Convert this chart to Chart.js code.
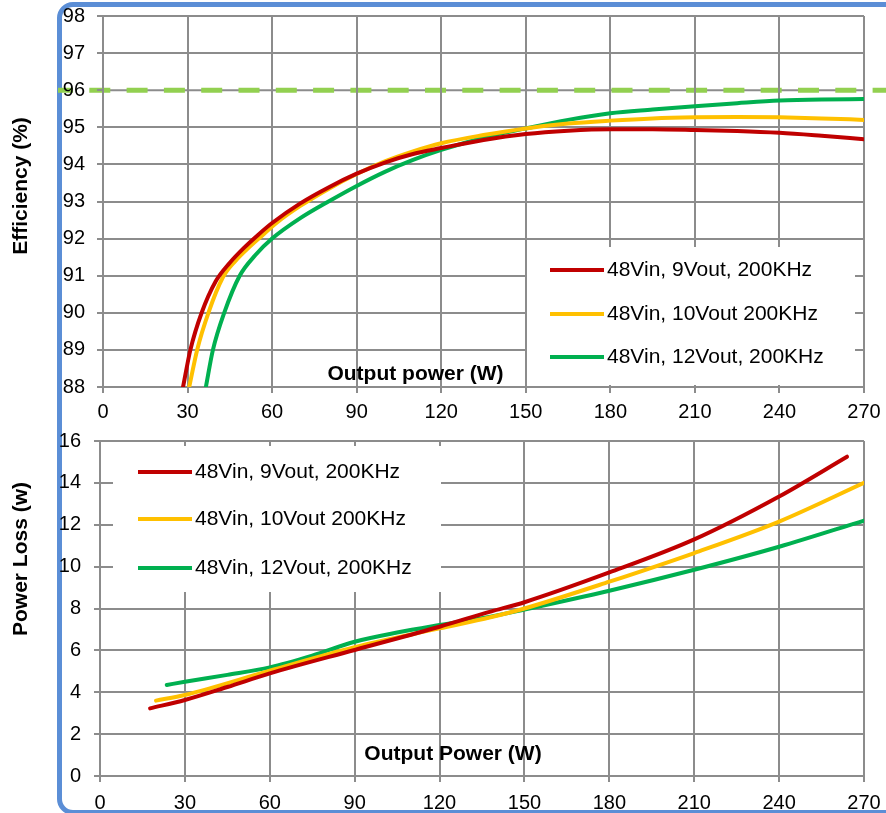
<!DOCTYPE html>
<html>
<head>
<meta charset="utf-8">
<script src="https://cdn.jsdelivr.net/npm/chart.js@4.4.1/dist/chart.umd.min.js"></script>
<style>
  html, body { margin: 0; padding: 0; background: #fff; }
  body { width: 886px; height: 813px; position: relative; overflow: hidden; }
  #frame { position: absolute; left: 57px; top: 2px; width: 900px; height: 813px; box-sizing: border-box;
           border: 5px solid #5B8ED6; border-radius: 16px; }
  canvas { position: absolute; left: 0; }
  #effChart { top: 0; }
  #lossChart { top: 426px; }
</style>
</head>
<body>
<div id="frame"></div>
<canvas id="effChart" width="886" height="426"></canvas>
<canvas id="lossChart" width="886" height="387"></canvas>
<script>
// Efficiency (%) vs output power (W)
const eff9W  = [28.4, 31, 35, 40, 45, 50, 55, 60, 70, 80, 90, 100, 110, 120, 135, 150, 165, 180, 195, 210, 225, 240, 255, 270];
const eff9   = [88.0, 89.0, 90.0, 90.85, 91.35, 91.75, 92.1, 92.42, 92.95, 93.38, 93.75, 94.05, 94.28, 94.44, 94.66, 94.82, 94.91, 94.95, 94.95, 94.93, 94.9, 94.85, 94.77, 94.68];
const eff10W = [30.6, 33.4, 37.4, 42.5, 47, 52, 57, 62, 70, 80, 90, 100, 110, 120, 135, 150, 165, 180, 195, 210, 225, 240, 255, 270];
const eff10  = [88.0, 89.0, 90.0, 90.95, 91.4, 91.78, 92.12, 92.45, 92.88, 93.34, 93.74, 94.08, 94.35, 94.57, 94.79, 94.97, 95.1, 95.18, 95.24, 95.27, 95.28, 95.27, 95.24, 95.2];
const eff12W = [36.5, 39, 43, 48.5, 54, 60, 70, 80, 90, 100, 110, 120, 135, 150, 165, 180, 195, 210, 225, 240, 255, 270];
const eff12  = [88.0, 89.0, 90.0, 91.0, 91.55, 92.0, 92.55, 93.0, 93.42, 93.8, 94.12, 94.39, 94.72, 94.97, 95.2, 95.38, 95.48, 95.57, 95.65, 95.72, 95.75, 95.76];
const effTarget = 96;

// Power loss (W) vs output power (W)
const loss9W  = [17.7, 30, 45, 60, 90, 120, 138, 150, 180, 210, 240, 264];
const loss9   = [3.23, 3.63, 4.25, 4.9, 6.02, 7.13, 7.85, 8.3, 9.72, 11.3, 13.35, 15.25];
const loss10W = [19.8, 30, 60, 90, 120, 138, 150, 180, 210, 240, 270];
const loss10  = [3.6, 3.87, 5.03, 6.15, 7.05, 7.58, 8.0, 9.28, 10.65, 12.15, 14.0];
const loss12W = [23.6, 30, 45, 60, 75, 90, 105, 120, 138, 150, 180, 210, 240, 270];
const loss12  = [4.35, 4.5, 4.83, 5.19, 5.75, 6.41, 6.85, 7.21, 7.61, 7.95, 8.85, 9.85, 10.95, 12.2];

const seriesLabels = ['48Vin, 9Vout, 200KHz', '48Vin, 10Vout 200KHz', '48Vin, 12Vout, 200KHz'];
const seriesColors = ['#C00000', '#FFC000', '#00B050'];

const GRID = '#8c8c8c';
const FONT = "'Liberation Sans', Arial, sans-serif";

function pts(xs, ys) {
	return xs.map( ( x, i ) => ( { x: x, y: ys[i] } ) );
}

function makeSet( i, xs, ys ) {
	return {
		label: seriesLabels[i],
		data: pts( xs, ys ),
		borderColor: seriesColors[i],
		backgroundColor: seriesColors[i],
		borderWidth: 4,
		borderCapStyle: 'round',
		pointRadius: 0,
		cubicInterpolationMode: 'monotone',
		fill: false
	};
}

// legend in a white box + axis titles inside the plot
const boxLegend = {
	id: 'boxLegend',
	beforeDatasetsDraw( chart, args, opts ) {
		const ctx = chart.ctx;
		ctx.save();
		ctx.fillStyle = '#fff';
		ctx.fillRect( opts.left, opts.top, opts.right - opts.left, opts.bottom - opts.top );
		ctx.font = '21px ' + FONT;
		ctx.textBaseline = 'middle';
		ctx.textAlign = 'left';
		chart.data.datasets.forEach( ( ds, i ) => {
			const y = opts.rows[i];
			ctx.strokeStyle = ds.borderColor;
			ctx.lineWidth = 4;
			ctx.beginPath();
			ctx.moveTo( opts.lineX, y );
			ctx.lineTo( opts.lineX + 54, y );
			ctx.stroke();
			ctx.fillStyle = '#000';
			ctx.fillText( ds.label, opts.lineX + 57, y );
		} );

		ctx.font = 'bold 21px ' + FONT;
		ctx.textAlign = 'center';
		ctx.fillStyle = '#000';
		ctx.fillText( opts.xTitle, opts.xTitleX, opts.xTitleY );
		ctx.translate( opts.yTitleX, opts.yTitleY );
		ctx.rotate( -Math.PI / 2 );
		ctx.fillText( opts.yTitle, 0, 0 );
		ctx.restore();
	}
};

// green dashed 96% line, under grid and labels
const targetLine = {
	id: 'targetLine',
	beforeDatasetsDraw( chart ) {
		if ( !chart.options.plugins.targetLine ) return;
		const y = chart.scales.y.getPixelForValue( effTarget );
		const ctx = chart.ctx;
		ctx.save();
		ctx.globalCompositeOperation = 'destination-over';
		ctx.strokeStyle = '#92D050';
		ctx.lineWidth = 5;
		ctx.setLineDash( [21, 16.3] );
		ctx.lineDashOffset = 6;
		ctx.beginPath();
		ctx.moveTo( 58, y );
		ctx.lineTo( chart.width, y );
		ctx.stroke();
		ctx.setLineDash( [] );
		ctx.strokeStyle = GRID;
		ctx.lineWidth = 2;
		ctx.beginPath();
		ctx.moveTo( chart.chartArea.left, y );
		ctx.lineTo( chart.chartArea.right, y );
		ctx.stroke();
		ctx.restore();
	}
};

function baseOptions( yMin, yMax, yStep, yWidth, xHeight, padTop, yPad, xPad, hideY ) {
	return {
		responsive: false,
		animation: false,
		devicePixelRatio: 1,
		layout: { padding: { top: padTop, right: 22, left: 0, bottom: 0 } },
		plugins: { legend: { display: false }, tooltip: { enabled: false } },
		scales: {
			x: {
				type: 'linear',
				min: 0,
				max: 270,
				ticks: { stepSize: 30, color: '#000', font: { family: FONT, size: 20 }, padding: xPad, maxRotation: 0 },
				grid: { color: GRID, lineWidth: 2, tickLength: 6, tickColor: GRID },
				border: { color: GRID, width: 2 },
				afterFit: s => {
					s.height = xHeight;
					s.paddingLeft = 0;
					s.paddingRight = 0;
				}
			},
			y: {
				min: yMin,
				max: yMax,
				ticks: { stepSize: yStep, color: '#000', font: { family: FONT, size: 20 }, padding: yPad },
				grid: {
					color: c => ( hideY !== undefined && c.tick && c.tick.value === hideY ) ? 'rgba(0,0,0,0)' : GRID,
					lineWidth: 2, tickLength: 6, tickColor: GRID
				},
				border: { color: GRID, width: 2 },
				afterFit: s => {
					s.width = yWidth;
					s.paddingTop = 0;
					s.paddingBottom = 0;
				}
			}
		}
	};
}

// Efficiency chart
const effOpts = baseOptions( 88, 98, 1, 103, 39, 16, 12, 7, effTarget );
effOpts.plugins.targetLine = true;
effOpts.plugins.boxLegend = {
	left: 527, top: 247, right: 855, bottom: 385,
	lineX: 550, rows: [270, 314, 357],
	xTitle: 'Output power (W)', xTitleX: 415.5, xTitleY: 374,
	yTitle: 'Efficiency (%)', yTitleX: 21, yTitleY: 186
};
new Chart( document.getElementById( 'effChart' ).getContext( '2d' ), {
	type: 'line',
	data: {
		datasets: [
			makeSet( 0, eff9W, eff9 ),
			makeSet( 1, eff10W, eff10 ),
			makeSet( 2, eff12W, eff12 )
		]
	},
	options: effOpts,
	plugins: [targetLine, boxLegend]
} );

// Power loss chart
const lossOpts = baseOptions( 0, 16, 2, 100, 37, 15, 13, 9 );
lossOpts.plugins.boxLegend = {
	left: 113, top: 20, right: 441, bottom: 166,
	lineX: 138, rows: [46, 93, 142],
	xTitle: 'Output Power (W)', xTitleX: 453, xTitleY: 328,
	yTitle: 'Power Loss (w)', yTitleX: 21, yTitleY: 133
};
new Chart( document.getElementById( 'lossChart' ).getContext( '2d' ), {
	type: 'line',
	data: {
		datasets: [
			makeSet( 0, loss9W, loss9 ),
			makeSet( 1, loss10W, loss10 ),
			makeSet( 2, loss12W, loss12 )
		]
	},
	options: lossOpts,
	plugins: [boxLegend]
} );
</script>
</body>
</html>
